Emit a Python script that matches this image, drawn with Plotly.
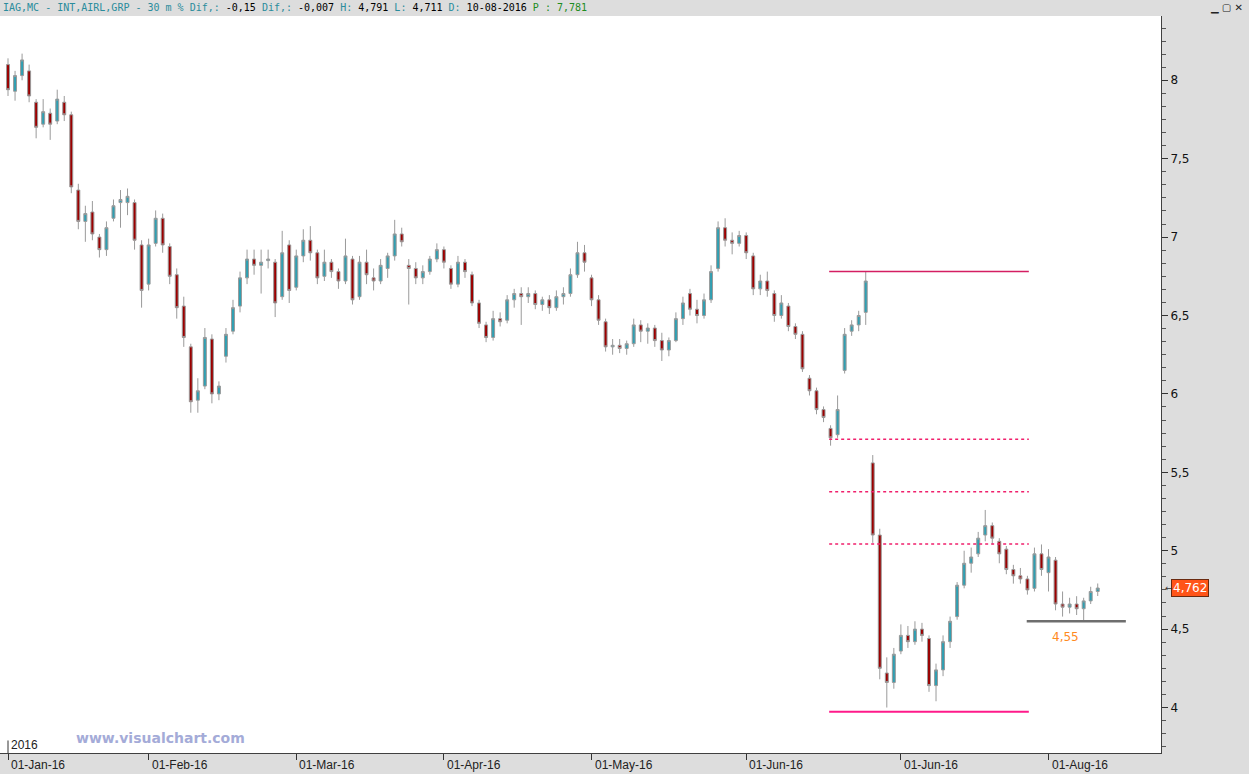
import plotly.graph_objects as go

# ---------------- data (one candle per trading day) ----------------
open_ = [8.10, 7.93, 8.03, 8.06, 7.86, 7.72, 7.79, 7.74, 7.86, 7.78,
         7.30, 7.10, 7.16, 7.00, 6.92, 7.12, 7.22, 7.22, 7.22, 6.95,
         6.70, 6.96, 7.12, 6.94, 6.76, 6.56, 6.30, 5.96, 6.05, 6.35,
         6.00, 6.24, 6.40, 6.56, 6.74, 6.86, 6.82, 6.85, 6.84, 6.62,
         6.95, 6.68, 6.88, 6.98, 6.90, 6.75, 6.84, 6.78, 6.72, 6.86,
         6.62, 6.84, 6.74, 6.72, 6.80, 6.88, 7.02, 6.82, 6.80, 6.74,
         6.78, 6.86, 6.92, 6.80, 6.70, 6.84, 6.76, 6.58, 6.44, 6.36,
         6.48, 6.47, 6.60, 6.64, 6.62, 6.64, 6.57, 6.60, 6.55, 6.62,
         6.64, 6.76, 6.90, 6.74, 6.60, 6.46, 6.30, 6.31, 6.29, 6.32,
         6.44, 6.40, 6.42, 6.34, 6.28, 6.34, 6.48, 6.64, 6.54, 6.50,
         6.60, 6.80, 7.06, 6.98, 6.96, 7.01, 6.88, 6.67, 6.72, 6.64,
         6.50, 6.56, 6.43, 6.38, 6.10, 6.02, 5.90, 5.78, 5.74, 6.15,
         6.40, 6.44, 6.52, 5.56, 5.10, 4.22, 4.16, 4.36, 4.46, 4.42,
         4.50, 4.44, 4.14, 4.24, 4.42, 4.58, 4.78, 4.92, 4.98, 5.10,
         5.16, 5.06, 5.01, 4.88, 4.84, 4.82, 4.76, 4.98, 4.86, 4.94,
         4.66, 4.64, 4.66, 4.63, 4.68, 4.74]
high = [8.14, 8.06, 8.17, 8.10, 7.88, 7.88, 7.82, 7.94, 7.90, 7.80,
        7.34, 7.20, 7.23, 7.02, 7.10, 7.24, 7.30, 7.31, 7.24, 6.98,
        6.99, 7.17, 7.15, 6.96, 6.80, 6.62, 6.32, 6.10, 6.42, 6.38,
        6.08, 6.42, 6.60, 6.78, 6.92, 6.92, 6.92, 6.92, 6.86, 7.04,
        6.98, 6.92, 7.05, 7.07, 6.92, 6.92, 6.86, 6.80, 6.99, 6.88,
        6.88, 6.92, 6.80, 6.86, 6.90, 7.11, 7.06, 6.86, 6.84, 6.82,
        6.88, 6.96, 6.94, 6.82, 6.88, 6.86, 6.78, 6.60, 6.46, 6.53,
        6.52, 6.63, 6.67, 6.68, 6.68, 6.66, 6.62, 6.63, 6.66, 6.68,
        6.80, 6.97, 6.95, 6.76, 6.63, 6.48, 6.35, 6.35, 6.34, 6.48,
        6.47, 6.45, 6.44, 6.39, 6.36, 6.52, 6.62, 6.67, 6.60, 6.64,
        6.82, 7.10, 7.12, 7.03, 7.04, 7.03, 6.90, 6.76, 6.78, 6.66,
        6.63, 6.58, 6.45, 6.40, 6.12, 6.04, 5.92, 5.80, 5.99, 6.42,
        6.47, 6.53, 6.78, 5.61, 5.14, 4.32, 4.38, 4.53, 4.52, 4.55,
        4.54, 4.46, 4.28, 4.46, 4.58, 4.80, 5.00, 5.02, 5.12, 5.26,
        5.18, 5.08, 5.03, 4.91, 4.89, 4.84, 5.02, 5.04, 5.01, 4.96,
        4.74, 4.70, 4.71, 4.70, 4.77, 4.791]
low = [7.90, 7.87, 8.00, 7.86, 7.63, 7.70, 7.62, 7.72, 7.74, 7.28,
       7.05, 6.97, 6.98, 6.87, 6.88, 7.10, 7.06, 7.14, 6.92, 6.55,
       6.66, 6.94, 6.90, 6.70, 6.48, 6.30, 5.88, 5.88, 6.03, 5.94,
       5.96, 6.20, 6.38, 6.52, 6.70, 6.76, 6.64, 6.80, 6.49, 6.60,
       6.58, 6.66, 6.84, 6.85, 6.70, 6.72, 6.74, 6.67, 6.70, 6.57,
       6.60, 6.70, 6.66, 6.70, 6.74, 6.85, 6.94, 6.57, 6.70, 6.70,
       6.76, 6.84, 6.80, 6.67, 6.68, 6.74, 6.56, 6.42, 6.33, 6.34,
       6.43, 6.45, 6.55, 6.44, 6.58, 6.54, 6.53, 6.51, 6.53, 6.57,
       6.62, 6.74, 6.78, 6.56, 6.44, 6.27, 6.25, 6.26, 6.25, 6.30,
       6.33, 6.32, 6.30, 6.21, 6.24, 6.33, 6.44, 6.50, 6.45, 6.48,
       6.58, 6.78, 6.94, 6.89, 6.94, 6.86, 6.63, 6.63, 6.62, 6.46,
       6.48, 6.40, 6.35, 6.14, 5.99, 5.87, 5.82, 5.67, 5.72, 6.13,
       6.37, 6.40, 6.44, 5.05, 4.18, 4.00, 4.12, 4.34, 4.38, 4.40,
       4.42, 4.10, 4.04, 4.20, 4.38, 4.56, 4.76, 4.86, 4.96, 5.06,
       5.04, 4.92, 4.85, 4.79, 4.79, 4.72, 4.74, 4.84, 4.74, 4.62,
       4.58, 4.60, 4.59, 4.55, 4.66, 4.711]
close = [7.94, 8.03, 8.13, 7.90, 7.70, 7.80, 7.72, 7.88, 7.78, 7.32,
         7.10, 7.15, 7.02, 6.92, 7.06, 7.20, 7.24, 7.26, 6.98, 6.66,
         6.95, 7.12, 6.95, 6.75, 6.55, 6.36, 5.95, 6.02, 6.36, 6.00,
         6.05, 6.38, 6.55, 6.74, 6.86, 6.82, 6.84, 6.86, 6.58, 6.90,
         6.66, 6.88, 6.98, 6.90, 6.74, 6.84, 6.78, 6.72, 6.88, 6.60,
         6.84, 6.76, 6.72, 6.82, 6.88, 7.02, 6.97, 6.80, 6.74, 6.78,
         6.86, 6.92, 6.84, 6.70, 6.84, 6.78, 6.58, 6.45, 6.36, 6.48,
         6.46, 6.60, 6.64, 6.62, 6.64, 6.57, 6.60, 6.55, 6.62, 6.64,
         6.76, 6.90, 6.84, 6.60, 6.47, 6.30, 6.31, 6.29, 6.32, 6.44,
         6.40, 6.42, 6.34, 6.28, 6.34, 6.48, 6.58, 6.54, 6.50, 6.60,
         6.78, 7.06, 6.98, 6.96, 7.01, 6.90, 6.67, 6.72, 6.66, 6.50,
         6.58, 6.43, 6.38, 6.16, 6.02, 5.90, 5.85, 5.72, 5.90, 6.38,
         6.44, 6.50, 6.72, 5.10, 4.25, 4.16, 4.34, 4.46, 4.42, 4.50,
         4.46, 4.14, 4.24, 4.42, 4.55, 4.78, 4.92, 4.96, 5.08, 5.16,
         5.08, 4.98, 4.88, 4.84, 4.82, 4.75, 4.98, 4.88, 4.96, 4.66,
         4.64, 4.66, 4.63, 4.68, 4.74, 4.762]

month_idx = [0, 20, 41, 62, 83, 105, 127, 148]
month_labels = ["01-Jan-16", "01-Feb-16", "01-Mar-16", "01-Apr-16",
                "01-May-16", "01-Jun-16", "01-Jun-16", "01-Aug-16"]
year_label = "2016"

y_ticks = [4, 4.5, 5, 5.5, 6, 6.5, 7, 7.5, 8]
y_ticktext = ["4", "4,5", "5", "5,5", "6", "6,5", "7", "7,5", "8"]

# drawn levels
resist_level = 6.78
dashed_levels = [5.711, 5.376, 5.043]
bottom_level = 3.973
lines_start, lines_end = 116.8, 145.2
support_level = 4.55
support_start, support_end = 144.9, 159.0
support_text = "4,55"
last_price_text = "4,762"

header_parts = [("IAG,MC - INT,AIRL,GRP - 30 m % Dif,: ", "#2a8c9c"), ("-0,15 ", "#000000"),
                ("Dif,: ", "#2a8c9c"), ("-0,007 ", "#000000"),
                ("H: ", "#2a8c9c"), ("4,791 ", "#000000"),
                ("L: ", "#2a8c9c"), ("4,711 ", "#000000"),
                ("D: ", "#2a8c9c"), ("10-08-2016 ", "#000000"),
                ("P : 7,781", "#1e8c1e")]

# ---------------- figure ----------------
n = len(close)
fig = go.Figure()
fig.add_trace(go.Candlestick(
    x=list(range(n)), open=open_, high=high, low=low, close=close,
    increasing=dict(line=dict(color="#9a9a9a", width=1), fillcolor="#2f9fb2"),
    decreasing=dict(line=dict(color="#9a9a9a", width=1), fillcolor="#9b0000"),
    whiskerwidth=0, showlegend=False, hoverinfo="skip"))

shapes = []
shapes.append(dict(type="line", xref="x", yref="y", x0=lines_start, x1=lines_end,
                   y0=resist_level, y1=resist_level, line=dict(color="#d41e62", width=1.5)))
for lv in dashed_levels:
    shapes.append(dict(type="line", xref="x", yref="y", x0=lines_start, x1=lines_end,
                       y0=lv, y1=lv, line=dict(color="#f0206c", width=1.5, dash="3px,3px")))
shapes.append(dict(type="line", xref="x", yref="y", x0=lines_start, x1=lines_end,
                   y0=bottom_level, y1=bottom_level, line=dict(color="#ff1a8a", width=1.8)))
shapes.append(dict(type="line", xref="x", yref="y", x0=support_start, x1=support_end,
                   y0=support_level, y1=support_level, line=dict(color="#6e6e6e", width=2.5)))
# year marker
shapes.append(dict(type="line", xref="x", yref="paper", x0=month_idx[0], x1=month_idx[0],
                   y0=0, y1=0.017, line=dict(color="#333333", width=1)))

annotations = []
for xi, lab in zip(month_idx, month_labels):
    annotations.append(dict(x=xi, y=-0.0165, xref="x", yref="paper", text=lab,
                            showarrow=False, xanchor="left", yanchor="middle", xshift=1,
                            font=dict(family="Liberation Sans", size=12, color="#222222")))
annotations.append(dict(x=month_idx[0], y=0.011, xref="x", yref="paper", text=year_label,
                        showarrow=False, xanchor="left", yanchor="middle", xshift=1,
                        font=dict(family="Liberation Sans", size=12, color="#222222")))
annotations.append(dict(x=0.138, y=0.021, xref="paper", yref="paper",
                        text="<b>www.visualchart.com</b>", showarrow=False,
                        xanchor="center", yanchor="middle",
                        font=dict(family="DejaVu Sans", size=14, color="#a4abd8")))
annotations.append(dict(x=(support_start + support_end) / 2 - 1.5, y=support_level, xref="x", yref="y",
                        text=support_text, showarrow=False, yshift=-16,
                        font=dict(family="DejaVu Sans", size=12, color="#ff8a1e")))
annotations.append(dict(x=1.0085, y=close[-1], xref="paper", yref="y", text=last_price_text,
                        showarrow=False, xanchor="left", yanchor="middle",
                        bgcolor="#ff5418", bordercolor="#6a2a10", borderwidth=1, borderpad=1,
                        font=dict(family="DejaVu Sans", size=12, color="white")))
annotations.append(dict(x=1.0015, y=close[-1], xref="paper", yref="y", text="←",
                        showarrow=False, xanchor="left", yanchor="middle",
                        font=dict(family="DejaVu Sans", size=9, color="#333333")))
header_html = "".join(f"<span style='color:{c}'>{t}</span>" for t, c in header_parts)
annotations.append(dict(x=0, y=1.0115, xref="paper", yref="paper", text=header_html,
                        showarrow=False, xanchor="left", yanchor="middle", xshift=1,
                        font=dict(family="DejaVu Sans Mono", size=10, color="#000000")))
annotations.append(dict(x=1.072, y=1.0115, xref="paper", yref="paper", text="▁ ▢ ✕",
                        showarrow=False, xanchor="right", yanchor="middle",
                        font=dict(family="DejaVu Sans", size=10, color="#222222")))

fig.update_layout(
    width=1249, height=774,
    margin=dict(l=0, r=88, t=16, b=21, pad=0),
    paper_bgcolor="#dddddd", plot_bgcolor="#ffffff",
    separators=",.",
    boxgap=0.4,
    shapes=shapes, annotations=annotations,
    xaxis=dict(range=[-1.14, 164.0], tickmode="array", tickvals=month_idx,
               showticklabels=False, ticks="outside", ticklen=6, tickcolor="#333333",
               showgrid=False, zeroline=False, showline=True, linecolor="#404040",
               rangeslider=dict(visible=False), fixedrange=True),
    yaxis=dict(side="right", range=[3.71, 8.41], tickmode="array", tickvals=y_ticks,
               ticktext=y_ticktext, ticks="outside", ticklen=6, tickcolor="#333333",
               tickfont=dict(family="DejaVu Sans", size=12, color="#111111"),
               showgrid=False, zeroline=False, showline=True, linecolor="#404040",
               minor=dict(dtick=0.5 / 6, ticks="outside", ticklen=4, tickcolor="#555555"),
               fixedrange=True),
)

fig.write_html("out.html", config={"displayModeBar": False},
               post_script="document.body.style.margin='0px';document.body.style.overflow='hidden';")
